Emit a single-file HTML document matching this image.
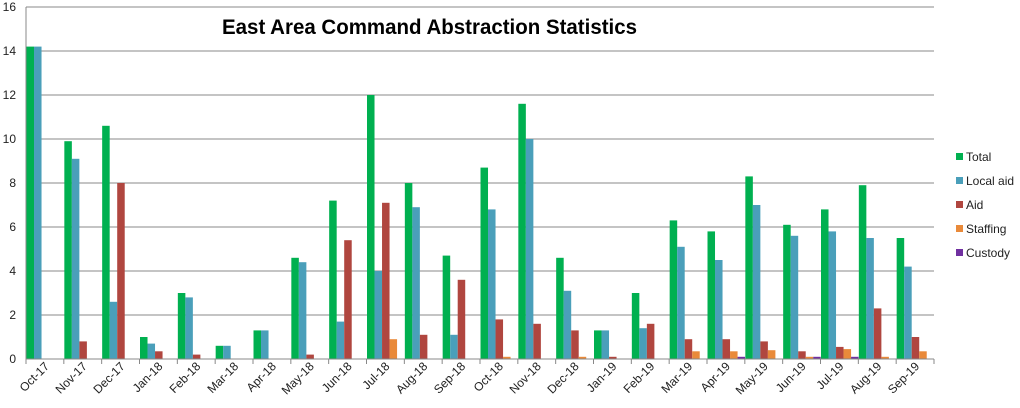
<!DOCTYPE html>
<html><head><meta charset="utf-8"><style>
body{margin:0;background:#fff;width:1020px;height:408px;overflow:hidden}
svg{display:block;font-family:"Liberation Sans",sans-serif}
</style></head><body>
<svg id="c" width="1020" height="408" xmlns="http://www.w3.org/2000/svg"></svg>
<script>
const s=document.getElementById('c');
const x0=26,x1=934,y0=359,yTop=7,n=24,cw=(x1-x0)/n,py=(y0-yTop)/16;
const cols=['#00B050','#4A9FBA','#B0463F','#E98A3A','#7030A0'];
const labs=['Oct-17','Nov-17','Dec-17','Jan-18','Feb-18','Mar-18','Apr-18','May-18','Jun-18','Jul-18','Aug-18','Sep-18','Oct-18','Nov-18','Dec-18','Jan-19','Feb-19','Mar-19','Apr-19','May-19','Jun-19','Jul-19','Aug-19','Sep-19'];
const d=[[14.2,14.2,0,0,0],[9.9,9.1,0.8,0,0],[10.6,2.6,8,0,0],[1,0.7,0.35,0,0],[3,2.8,0.2,0,0],[0.6,0.6,0,0,0],[1.3,1.3,0,0,0],[4.6,4.4,0.2,0,0],[7.2,1.7,5.4,0,0],[12,4,7.1,0.9,0],[8,6.9,1.1,0,0],[4.7,1.1,3.6,0,0],[8.7,6.8,1.8,0.1,0],[11.6,10,1.6,0,0],[4.6,3.1,1.3,0.1,0],[1.3,1.3,0.1,0,0],[3,1.4,1.6,0,0],[6.3,5.1,0.9,0.35,0],[5.8,4.5,0.9,0.35,0.1],[8.3,7,0.8,0.4,0],[6.1,5.6,0.35,0.1,0.1],[6.8,5.8,0.55,0.45,0.1],[7.9,5.5,2.3,0.1,0],[5.5,4.2,1,0.35,0]];
let h='';
for(let v=0;v<=16;v+=2){const y=y0-v*py;
 if(v>0)h+=`<line x1="${x0}" x2="${x1}" y1="${y}" y2="${y}" stroke="#888" stroke-width="1"/>`;
 h+=`<text x="16" y="${y+4}" font-size="12" text-anchor="end" fill="#222">${v}</text>`;}
h+=`<rect x="210" y="10" width="445" height="32" fill="#fff"/>`;
h+=`<text x="222" y="34" font-size="21" font-weight="bold" textLength="415" lengthAdjust="spacingAndGlyphs" fill="#000">East Area Command Abstraction Statistics</text>`;
const bw=cw/5-0.05;
d.forEach((r,i)=>{const cx=x0+i*cw;
 r.forEach((v,j)=>{if(v>0){const hh=v*py;h+=`<rect x="${cx+0.5+j*bw}" y="${y0-hh}" width="${bw}" height="${hh}" fill="${cols[j]}"/>`;}});
 const tx=cx+cw/2+5,ty=367;
 h+=`<text x="${tx}" y="${ty}" font-size="12" text-anchor="end" fill="#222" transform="rotate(-45 ${tx} ${ty})">${labs[i]}</text>`;
});
h+=`<line x1="${x0}" x2="${x0}" y1="${yTop}" y2="${y0}" stroke="#888"/>`;
h+=`<line x1="${x0}" x2="${x1}" y1="${y0}" y2="${y0}" stroke="#888"/>`;
for(let i=0;i<=n;i++){const x=x0+i*cw;h+=`<line x1="${x}" x2="${x}" y1="${y0}" y2="${y0+5}" stroke="#888"/>`;}
['Total','Local aid','Aid','Staffing','Custody'].forEach((l,j)=>{const y=157+j*24;
 h+=`<rect x="956" y="${y-4}" width="7" height="7" fill="${cols[j]}"/><text x="966" y="${y+4}" font-size="12" fill="#222">${l}</text>`;});
s.innerHTML=h;
</script>
</body></html>
